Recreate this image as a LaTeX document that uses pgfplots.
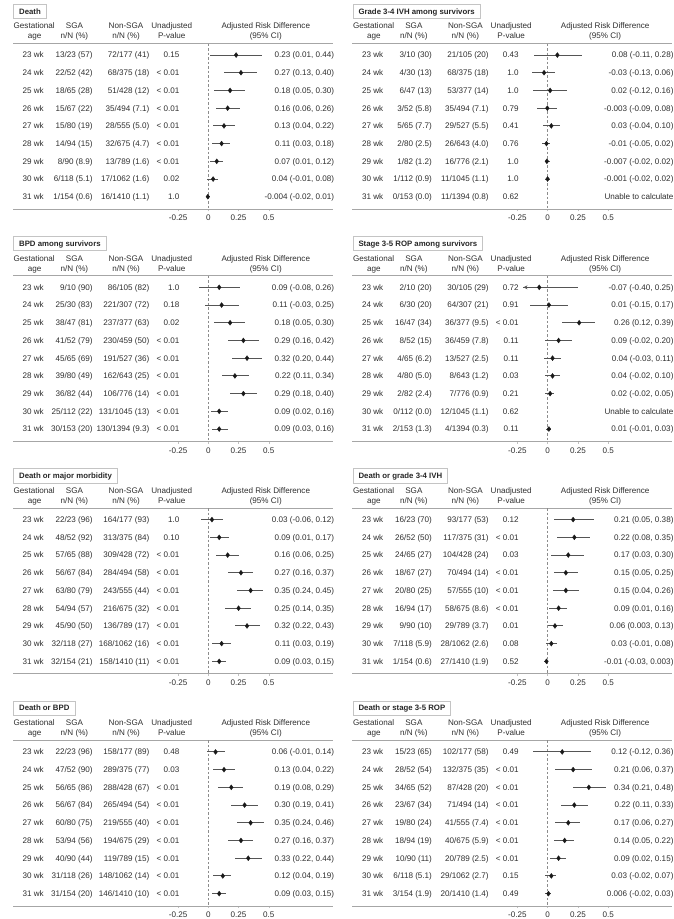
\documentclass[border=0pt]{standalone}
\usepackage{fontspec}
\setmainfont{Liberation Sans}
\usepackage{pgfplots}
\pgfplotsset{compat=1.18}
\usepackage{pgfplotstable}
\usetikzlibrary{arrows.meta}
\definecolor{txt}{HTML}{2E2E2E}
\definecolor{ci}{HTML}{555555}
\definecolor{rule}{HTML}{A6A6A6}
\definecolor{boxc}{HTML}{C4C4C4}
\definecolor{zero}{HTML}{8C8C8C}

% ---------------- data (row, estimate, lower, upper) ----------------
\pgfplotstableread{
row est lo hi
1 0.23 0.01 0.44
2 0.27 0.13 0.40
3 0.18 0.05 0.30
4 0.16 0.06 0.26
5 0.13 0.04 0.22
6 0.11 0.03 0.18
7 0.07 0.01 0.12
8 0.04 -0.01 0.08
9 -0.004 -0.02 0.01
}\tDeath
\pgfplotstableread{
row est lo hi
1 0.08 -0.11 0.28
2 -0.03 -0.13 0.06
3 0.02 -0.12 0.16
4 -0.003 -0.09 0.08
5 0.03 -0.04 0.10
6 -0.01 -0.05 0.02
7 -0.007 -0.02 0.02
8 -0.001 -0.02 0.02
}\tIVH
\pgfplotstableread{
row est lo hi
1 0.09 -0.08 0.26
2 0.11 -0.03 0.25
3 0.18 0.05 0.30
4 0.29 0.16 0.42
5 0.32 0.20 0.44
6 0.22 0.11 0.34
7 0.29 0.18 0.40
8 0.09 0.02 0.16
9 0.09 0.03 0.16
}\tBPD
\pgfplotstableread{
row est lo hi
1 -0.07 -0.40 0.25
2 0.01 -0.15 0.17
3 0.26 0.12 0.39
4 0.09 -0.02 0.20
5 0.04 -0.03 0.11
6 0.04 -0.02 0.10
7 0.02 -0.02 0.05
9 0.01 -0.01 0.03
}\tROP
\pgfplotstableread{
row est lo hi
1 0.03 -0.06 0.12
2 0.09 0.01 0.17
3 0.16 0.06 0.25
4 0.27 0.16 0.37
5 0.35 0.24 0.45
6 0.25 0.14 0.35
7 0.32 0.22 0.43
8 0.11 0.03 0.19
9 0.09 0.03 0.15
}\tDMM
\pgfplotstableread{
row est lo hi
1 0.21 0.05 0.38
2 0.22 0.08 0.35
3 0.17 0.03 0.30
4 0.15 0.05 0.25
5 0.15 0.04 0.26
6 0.09 0.01 0.16
7 0.06 0.003 0.13
8 0.03 -0.01 0.08
9 -0.01 -0.03 0.003
}\tDIVH
\pgfplotstableread{
row est lo hi
1 0.06 -0.01 0.14
2 0.13 0.04 0.22
3 0.19 0.08 0.29
4 0.30 0.19 0.41
5 0.35 0.24 0.46
6 0.27 0.16 0.37
7 0.33 0.22 0.44
8 0.12 0.04 0.19
9 0.09 0.03 0.15
}\tDBPD
\pgfplotstableread{
row est lo hi
1 0.12 -0.12 0.36
2 0.21 0.06 0.37
3 0.34 0.21 0.48
4 0.22 0.11 0.33
5 0.17 0.06 0.27
6 0.14 0.05 0.22
7 0.09 0.02 0.15
8 0.03 -0.02 0.07
9 0.006 -0.02 0.03
}\tDROP

\tikzset{cell/.style={inner sep=0pt, text height=5.8pt, text depth=0pt, text=txt}}

\pgfplotsset{panel/.style={
  scale only axis, width=320pt, height=165.8pt,
  xmin=-1.614, xmax=1.0306, ymin=0.35, ymax=9.71, y dir=reverse,
  axis line style={draw=none},
  xtick={-0.25,0,0.25,0.5}, xticklabels={-0.25,0,0.25,0.5},
  xtick pos=left, ytick=\empty,
  major tick length=2pt, tick align=outside,
  tick style={draw=rule!70, line width=0.5pt},
  xticklabel style={cell, yshift=-3.5pt},
  clip=false, anchor=north west,
}}

\newcommand\rw[6]{%
  \node[cell,anchor=center] at (axis cs:-1.447,#1) {#2};
  \node[cell,anchor=east] at (axis cs:-0.955,#1) {#3};
  \node[cell,anchor=east] at (axis cs:-0.486,#1) {#4};
  \node[cell,anchor=east] at (axis cs:-0.238,#1) {#5};
  \node[cell,anchor=east] at (axis cs:1.041,#1) {#6};
}
\newcommand\panelhead[1]{%
  \node[cell] at (axis cs:-1.439,-0.637) {Gestational};
  \node[cell] at (axis cs:-1.436,-0.073) {age};
  \node[cell] at (axis cs:-1.106,-0.637) {SGA};
  \node[cell] at (axis cs:-1.106,-0.073) {n/N (\%)};
  \node[cell] at (axis cs:-0.680,-0.637) {Non-SGA};
  \node[cell] at (axis cs:-0.680,-0.073) {n/N (\%)};
  \node[cell] at (axis cs:-0.302,-0.637) {Unadjusted};
  \node[cell] at (axis cs:-0.302,-0.073) {P-value};
  \node[cell] at (axis cs:0.475,-0.637) {Adjusted Risk Difference};
  \node[cell] at (axis cs:0.475,-0.073) {(95\% CI)};
  \node[cell, draw=boxc, line width=0.8pt, anchor=west, inner xsep=5.5pt,
        minimum height=14.3pt, font=\fontsize{7.8}{9}\selectfont\bfseries,
        text height=5.6pt, text=black!85] at (axis cs:-1.612,-1.473) {#1};
  \draw[rule, line width=1.1pt] (axis cs:-1.614,0.35) -- (axis cs:1.0306,0.35);
  \draw[rule, line width=1.1pt] (axis cs:-1.614,9.71) -- (axis cs:1.0306,9.71);
  \draw[zero, dash pattern=on 2.5pt off 2pt, line width=0.6pt] (axis cs:0,0.35) -- (axis cs:0,9.71);
}
\newcommand\forest[1]{%
  \addplot[draw=none, mark=none, forget plot,
    error bars/.cd, x dir=both, x explicit, error mark=none,
    error bar style={draw=ci, line width=1.0pt, solid}]
    table[x=est, y=row,
      x error plus expr=\thisrow{hi}-\thisrow{est},
      x error minus expr={\thisrow{est}-max(\thisrow{lo},-0.2)}] {#1};
  \addplot[only marks, mark=diamond*, mark size=2.5pt,
    mark options={fill=black!90, draw=black!90, line width=0.3pt}, forget plot]
    table[x=est, y=row] {#1};
}

\begin{document}
\begin{tikzpicture}[font=\fontsize{8.1}{9.7}\selectfont]
\useasboundingbox (0pt,0pt) rectangle (674pt,-919pt);

% ---------- Death ----------
\begin{axis}[panel, at={(13pt,-43.5pt)}]
\panelhead{Death}
\rw{1}{23 wk}{13/23 (57)}{72/177 (41)}{0.15}{0.23 (0.01, 0.44)}
\rw{2}{24 wk}{22/52 (42)}{68/375 (18)}{< 0.01}{0.27 (0.13, 0.40)}
\rw{3}{25 wk}{18/65 (28)}{51/428 (12)}{< 0.01}{0.18 (0.05, 0.30)}
\rw{4}{26 wk}{15/67 (22)}{35/494 (7.1)}{< 0.01}{0.16 (0.06, 0.26)}
\rw{5}{27 wk}{15/80 (19)}{28/555 (5.0)}{< 0.01}{0.13 (0.04, 0.22)}
\rw{6}{28 wk}{14/94 (15)}{32/675 (4.7)}{< 0.01}{0.11 (0.03, 0.18)}
\rw{7}{29 wk}{8/90 (8.9)}{13/789 (1.6)}{< 0.01}{0.07 (0.01, 0.12)}
\rw{8}{30 wk}{6/118 (5.1)}{17/1062 (1.6)}{0.02}{0.04 (-0.01, 0.08)}
\rw{9}{31 wk}{1/154 (0.6)}{16/1410 (1.1)}{1.0}{-0.004 (-0.02, 0.01)}
\forest{\tDeath}
\end{axis}

% ---------- Grade 3-4 IVH ----------
\begin{axis}[panel, at={(352.4pt,-43.5pt)}]
\panelhead{Grade 3-4 IVH among survivors}
\rw{1}{23 wk}{3/10 (30)}{21/105 (20)}{0.43}{0.08 (-0.11, 0.28)}
\rw{2}{24 wk}{4/30 (13)}{68/375 (18)}{1.0}{-0.03 (-0.13, 0.06)}
\rw{3}{25 wk}{6/47 (13)}{53/377 (14)}{1.0}{0.02 (-0.12, 0.16)}
\rw{4}{26 wk}{3/52 (5.8)}{35/494 (7.1)}{0.79}{-0.003 (-0.09, 0.08)}
\rw{5}{27 wk}{5/65 (7.7)}{29/527 (5.5)}{0.41}{0.03 (-0.04, 0.10)}
\rw{6}{28 wk}{2/80 (2.5)}{26/643 (4.0)}{0.76}{-0.01 (-0.05, 0.02)}
\rw{7}{29 wk}{1/82 (1.2)}{16/776 (2.1)}{1.0}{-0.007 (-0.02, 0.02)}
\rw{8}{30 wk}{1/112 (0.9)}{11/1045 (1.1)}{1.0}{-0.001 (-0.02, 0.02)}
\rw{9}{31 wk}{0/153 (0.0)}{11/1394 (0.8)}{0.62}{Unable to calculate}
\forest{\tIVH}
\end{axis}

% ---------- BPD ----------
\begin{axis}[panel, at={(13pt,-275.8pt)}]
\panelhead{BPD among survivors}
\rw{1}{23 wk}{9/10 (90)}{86/105 (82)}{1.0}{0.09 (-0.08, 0.26)}
\rw{2}{24 wk}{25/30 (83)}{221/307 (72)}{0.18}{0.11 (-0.03, 0.25)}
\rw{3}{25 wk}{38/47 (81)}{237/377 (63)}{0.02}{0.18 (0.05, 0.30)}
\rw{4}{26 wk}{41/52 (79)}{230/459 (50)}{< 0.01}{0.29 (0.16, 0.42)}
\rw{5}{27 wk}{45/65 (69)}{191/527 (36)}{< 0.01}{0.32 (0.20, 0.44)}
\rw{6}{28 wk}{39/80 (49)}{162/643 (25)}{< 0.01}{0.22 (0.11, 0.34)}
\rw{7}{29 wk}{36/82 (44)}{106/776 (14)}{< 0.01}{0.29 (0.18, 0.40)}
\rw{8}{30 wk}{25/112 (22)}{131/1045 (13)}{< 0.01}{0.09 (0.02, 0.16)}
\rw{9}{31 wk}{30/153 (20)}{130/1394 (9.3)}{< 0.01}{0.09 (0.03, 0.16)}
\forest{\tBPD}
\end{axis}

% ---------- ROP ----------
\begin{axis}[panel, at={(352.4pt,-275.8pt)}]
\panelhead{Stage 3-5 ROP among survivors}
\rw{1}{23 wk}{2/10 (20)}{30/105 (29)}{0.72}{-0.07 (-0.40, 0.25)}
\rw{2}{24 wk}{6/30 (20)}{64/307 (21)}{0.91}{0.01 (-0.15, 0.17)}
\rw{3}{25 wk}{16/47 (34)}{36/377 (9.5)}{< 0.01}{0.26 (0.12, 0.39)}
\rw{4}{26 wk}{8/52 (15)}{36/459 (7.8)}{0.11}{0.09 (-0.02, 0.20)}
\rw{5}{27 wk}{4/65 (6.2)}{13/527 (2.5)}{0.11}{0.04 (-0.03, 0.11)}
\rw{6}{28 wk}{4/80 (5.0)}{8/643 (1.2)}{0.03}{0.04 (-0.02, 0.10)}
\rw{7}{29 wk}{2/82 (2.4)}{7/776 (0.9)}{0.21}{0.02 (-0.02, 0.05)}
\rw{8}{30 wk}{0/112 (0.0)}{12/1045 (1.1)}{0.62}{Unable to calculate}
\rw{9}{31 wk}{2/153 (1.3)}{4/1394 (0.3)}{0.11}{0.01 (-0.01, 0.03)}
\forest{\tROP}
\addplot[draw=ci, line width=1.0pt, -{Stealth[length=4pt,width=4pt]}, forget plot]
  coordinates {(-0.16,1) (-0.2,1)};
\end{axis}

% ---------- Death or major morbidity ----------
\begin{axis}[panel, at={(13pt,-508.1pt)}]
\panelhead{Death or major morbidity}
\rw{1}{23 wk}{22/23 (96)}{164/177 (93)}{1.0}{0.03 (-0.06, 0.12)}
\rw{2}{24 wk}{48/52 (92)}{313/375 (84)}{0.10}{0.09 (0.01, 0.17)}
\rw{3}{25 wk}{57/65 (88)}{309/428 (72)}{< 0.01}{0.16 (0.06, 0.25)}
\rw{4}{26 wk}{56/67 (84)}{284/494 (58)}{< 0.01}{0.27 (0.16, 0.37)}
\rw{5}{27 wk}{63/80 (79)}{243/555 (44)}{< 0.01}{0.35 (0.24, 0.45)}
\rw{6}{28 wk}{54/94 (57)}{216/675 (32)}{< 0.01}{0.25 (0.14, 0.35)}
\rw{7}{29 wk}{45/90 (50)}{136/789 (17)}{< 0.01}{0.32 (0.22, 0.43)}
\rw{8}{30 wk}{32/118 (27)}{168/1062 (16)}{< 0.01}{0.11 (0.03, 0.19)}
\rw{9}{31 wk}{32/154 (21)}{158/1410 (11)}{< 0.01}{0.09 (0.03, 0.15)}
\forest{\tDMM}
\end{axis}

% ---------- Death or grade 3-4 IVH ----------
\begin{axis}[panel, at={(352.4pt,-508.1pt)}]
\panelhead{Death or grade 3-4 IVH}
\rw{1}{23 wk}{16/23 (70)}{93/177 (53)}{0.12}{0.21 (0.05, 0.38)}
\rw{2}{24 wk}{26/52 (50)}{117/375 (31)}{< 0.01}{0.22 (0.08, 0.35)}
\rw{3}{25 wk}{24/65 (27)}{104/428 (24)}{0.03}{0.17 (0.03, 0.30)}
\rw{4}{26 wk}{18/67 (27)}{70/494 (14)}{< 0.01}{0.15 (0.05, 0.25)}
\rw{5}{27 wk}{20/80 (25)}{57/555 (10)}{< 0.01}{0.15 (0.04, 0.26)}
\rw{6}{28 wk}{16/94 (17)}{58/675 (8.6)}{< 0.01}{0.09 (0.01, 0.16)}
\rw{7}{29 wk}{9/90 (10)}{29/789 (3.7)}{0.01}{0.06 (0.003, 0.13)}
\rw{8}{30 wk}{7/118 (5.9)}{28/1062 (2.6)}{0.08}{0.03 (-0.01, 0.08)}
\rw{9}{31 wk}{1/154 (0.6)}{27/1410 (1.9)}{0.52}{-0.01 (-0.03, 0.003)}
\forest{\tDIVH}
\end{axis}

% ---------- Death or BPD ----------
\begin{axis}[panel, at={(13pt,-740.4pt)}]
\panelhead{Death or BPD}
\rw{1}{23 wk}{22/23 (96)}{158/177 (89)}{0.48}{0.06 (-0.01, 0.14)}
\rw{2}{24 wk}{47/52 (90)}{289/375 (77)}{0.03}{0.13 (0.04, 0.22)}
\rw{3}{25 wk}{56/65 (86)}{288/428 (67)}{< 0.01}{0.19 (0.08, 0.29)}
\rw{4}{26 wk}{56/67 (84)}{265/494 (54)}{< 0.01}{0.30 (0.19, 0.41)}
\rw{5}{27 wk}{60/80 (75)}{219/555 (40)}{< 0.01}{0.35 (0.24, 0.46)}
\rw{6}{28 wk}{53/94 (56)}{194/675 (29)}{< 0.01}{0.27 (0.16, 0.37)}
\rw{7}{29 wk}{40/90 (44)}{119/789 (15)}{< 0.01}{0.33 (0.22, 0.44)}
\rw{8}{30 wk}{31/118 (26)}{148/1062 (14)}{< 0.01}{0.12 (0.04, 0.19)}
\rw{9}{31 wk}{31/154 (20)}{146/1410 (10)}{< 0.01}{0.09 (0.03, 0.15)}
\forest{\tDBPD}
\end{axis}

% ---------- Death or stage 3-5 ROP ----------
\begin{axis}[panel, at={(352.4pt,-740.4pt)}]
\panelhead{Death or stage 3-5 ROP}
\rw{1}{23 wk}{15/23 (65)}{102/177 (58)}{0.49}{0.12 (-0.12, 0.36)}
\rw{2}{24 wk}{28/52 (54)}{132/375 (35)}{< 0.01}{0.21 (0.06, 0.37)}
\rw{3}{25 wk}{34/65 (52)}{87/428 (20)}{< 0.01}{0.34 (0.21, 0.48)}
\rw{4}{26 wk}{23/67 (34)}{71/494 (14)}{< 0.01}{0.22 (0.11, 0.33)}
\rw{5}{27 wk}{19/80 (24)}{41/555 (7.4)}{< 0.01}{0.17 (0.06, 0.27)}
\rw{6}{28 wk}{18/94 (19)}{40/675 (5.9)}{< 0.01}{0.14 (0.05, 0.22)}
\rw{7}{29 wk}{10/90 (11)}{20/789 (2.5)}{< 0.01}{0.09 (0.02, 0.15)}
\rw{8}{30 wk}{6/118 (5.1)}{29/1062 (2.7)}{0.15}{0.03 (-0.02, 0.07)}
\rw{9}{31 wk}{3/154 (1.9)}{20/1410 (1.4)}{0.49}{0.006 (-0.02, 0.03)}
\forest{\tDROP}
\end{axis}
\end{tikzpicture}
\end{document}
